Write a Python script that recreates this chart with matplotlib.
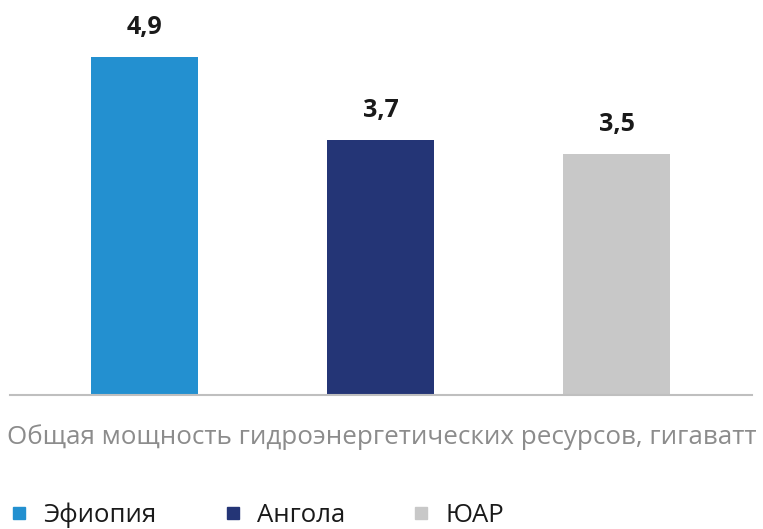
import matplotlib

matplotlib.use("Agg")
import matplotlib.pyplot as plt
from matplotlib.lines import Line2D

countries = ["Эфиопия", "Ангола", "ЮАР"]
capacity = [4.9, 3.7, 3.5]
value_labels = ["4,9", "3,7", "3,5"]
colors = ["#2390D0", "#243576", "#C8C8C8"]
xlabel = "Общая мощность гидроэнергетических ресурсов, гигаватт"

plt.rcParams["font.family"] = ["Open Sans", "DejaVu Sans"]

fig = plt.figure(figsize=(7.63, 5.29), dpi=100)
ax = fig.add_axes([10 / 763, 134 / 529, 742 / 763, 395 / 529])

x = list(range(len(countries)))
ax.bar(x, capacity, width=0.453, color=colors)

for xi, val, lab in zip(x, capacity, value_labels):
    ax.annotate(lab, (xi, val), xytext=(0, 21), textcoords="offset points",
                ha="center", va="center", fontsize=18, fontweight="bold",
                color="#1A1A1A")

ax.set_xlim(-0.57, 2.574)
ax.set_ylim(0, 395 / 69)
for side in ["top", "right", "left"]:
    ax.spines[side].set_visible(False)
ax.spines["bottom"].set_color("#BFBFBF")
ax.spines["bottom"].set_linewidth(1.5)
ax.set_xticks([])
ax.set_yticks([])

fig.text(382 / 763, 1 - 437 / 529, xlabel, ha="center", va="center",
         fontsize=18.7, color="#8C8C8C")

handles = [Line2D([], [], marker="s", linestyle="", markersize=8, color=c)
           for c in colors]
fig.legend(handles, countries, loc="center left", bbox_to_anchor=(8.7 / 763, 1 - 515 / 529),
           ncol=3, frameon=False, fontsize=18.5, handletextpad=0.53, columnspacing=2.58,
           handlelength=0.8, borderpad=0, borderaxespad=0, labelcolor="#1A1A1A")

fig.savefig("out.png", dpi=100)
